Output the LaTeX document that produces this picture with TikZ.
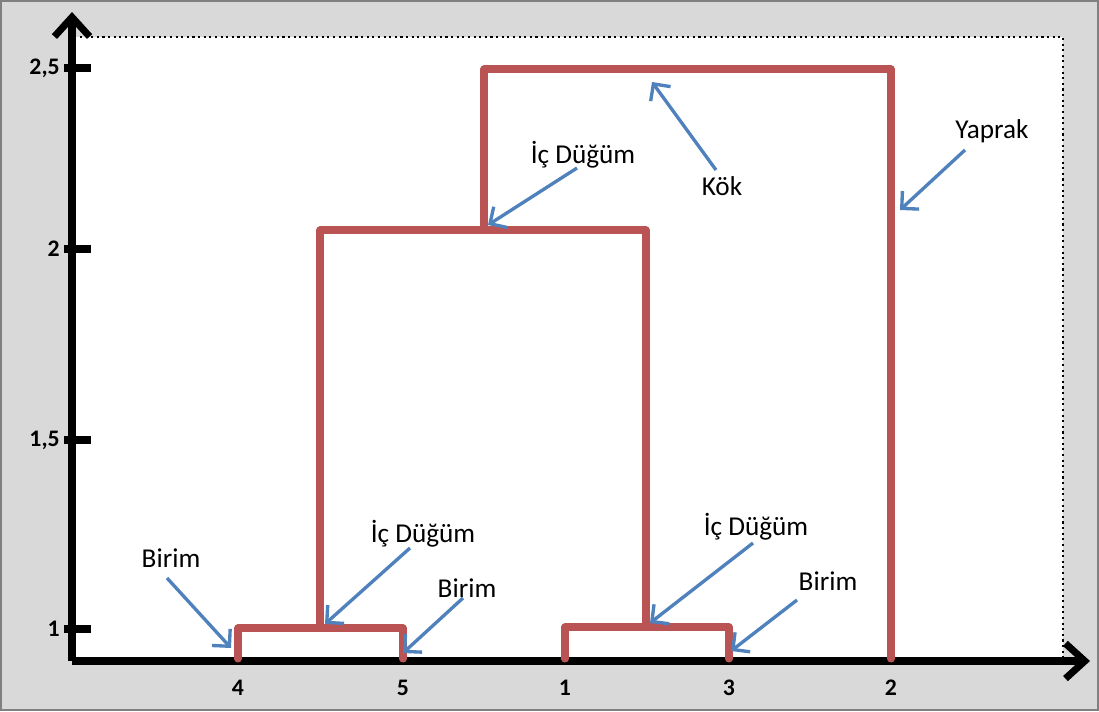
\documentclass[tikz,border=0pt]{standalone}
\usepackage{fontspec}
\setmainfont{Carlito}
\usetikzlibrary{arrows.meta}
\definecolor{bggray}{RGB}{217,217,217}
\definecolor{framegray}{RGB}{128,128,128}
\definecolor{dendred}{RGB}{186,84,84}
\definecolor{arrblue}{RGB}{79,129,189}
\tikzset{
  axisline/.style={line width=4pt, -{Straight Barb[length=11pt,width=20pt,line width=4pt]}},
  tickline/.style={line width=4pt},
  ticklab/.style={font=\fontsize{13.5}{13.5}\selectfont\bfseries, anchor=east, inner sep=0pt},
  xlab/.style={font=\fontsize{13.5}{13.5}\selectfont\bfseries, inner sep=0pt},
  dend/.style={line width=4pt, draw=dendred, line join=round, line cap=round},
  lab/.style={font=\fontsize{15.5}{15.5}\selectfont, inner sep=1pt},
  pointer/.style={line width=1.9pt, draw=arrblue, -{Straight Barb[length=7pt,width=14pt,line width=1.9pt]}, arrblue}
}
\begin{document}
\begin{tikzpicture}[x=0.02cm, y=-0.02cm]
\useasboundingbox (0,0) rectangle (1099,711);
% background
\fill[bggray] (0,0) rectangle (1099,711);
\draw[framegray, line width=1.5pt] (1,1) rectangle (1098,710);
\fill[white] (72,37) rectangle (1063,660);
\draw[black, line width=1.2pt, dotted] (80,37) -- (1063,37) -- (1063,658);
% axes
\coordinate (O) at (72,661);
\coordinate (ytop) at (72,12);
\coordinate (xend) at (1090,661);
\draw[axisline] (O) -- (ytop);
\draw[axisline] (O) -- (xend);
% ticks
\foreach \yy/\t/\nm in {68/{2,5}/t25, 249/2/t2, 440/{1,5}/t15, 629/1/t1}{
  \draw[tickline] (64,\yy) -- (91,\yy);
  \node[ticklab] (\nm) at (60,\yy) {\t};
}
% x labels
\node[xlab] (x4) at (238,688) {4};
\node[xlab] (x5) at (403,688) {5};
\node[xlab] (x1) at (565,688) {1};
\node[xlab] (x3) at (729,688) {3};
\node[xlab] (x2) at (891,688) {2};
% dendrogram
\draw[dend] (238,659) -- (238,628) -- (403,628) -- (403,659);
\draw[dend] (565,659) -- (565,627) -- (729,627) -- (729,659);
\draw[dend] (320,628) -- (320,230);
\draw[dend] (646,627) -- (646,230);
\draw[dend] (320,230) -- (646,230);
\draw[dend] (484,230) -- (484,69);
\draw[dend] (484,69) -- (891,69) -- (891,659);
% arrow targets
\coordinate (pKok) at (652,82);
\coordinate (pIcTop) at (488,225);
\coordinate (pYaprak) at (900,210);
\coordinate (pBirimL) at (231,648);
\coordinate (pIcL) at (325,624);
\coordinate (pBirimM) at (403,653);
\coordinate (pIcR) at (650,623);
\coordinate (pBirimR) at (731,651);
% labels
\node[lab] (kok) at (722,186) {Kök};
\node[lab] (ictop) at (583,155) {İç Düğüm};
\node[lab] (yaprak) at (992,131) {Yaprak};
\node[lab] (birimL) at (171,558) {Birim};
\node[lab] (icL) at (423,534) {İç Düğüm};
\node[lab] (birimM) at (467,588) {Birim};
\node[lab] (icR) at (756,527) {İç Düğüm};
\node[lab] (birimR) at (828,581) {Birim};
% pointers
\draw[pointer] (716,170) -- (pKok);
\draw[pointer] (577,168) -- (pIcTop);
\draw[pointer] (965,150) -- (pYaprak);
\draw[pointer] (167,578) -- (pBirimL);
\draw[pointer] (410,548) -- (pIcL);
\draw[pointer] (463,598) -- (pBirimM);
\draw[pointer] (753,543) -- (pIcR);
\draw[pointer] (797,600) -- (pBirimR);
\end{tikzpicture}
\end{document}
